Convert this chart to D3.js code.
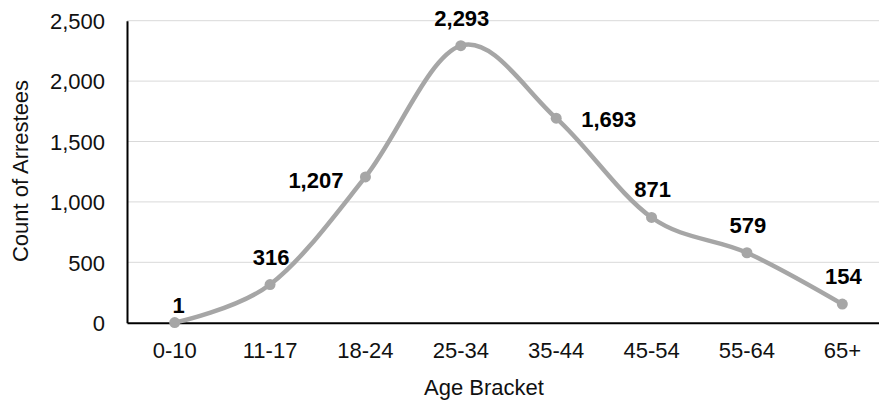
<!DOCTYPE html>
<html>
<head>
<meta charset="utf-8">
<script src="https://cdn.jsdelivr.net/npm/d3@7"></script>
<style>
  html, body { margin: 0; padding: 0; background: #fff; }
  svg { display: block; font-family: "Liberation Sans", Arial, sans-serif; }
</style>
</head>
<body>
<svg id="chart" width="879" height="403"></svg>
<script>
const categories = ["0-10", "11-17", "18-24", "25-34", "35-44", "45-54", "55-64", "65+"];
const arrestees = [1, 316, 1207, 2293, 1693, 871, 579, 154];
const yTicks = [0, 500, 1000, 1500, 2000, 2500];
const labelPlacement = ["above0", "above", "left", "above", "right", "above", "above", "above"];

const W = 879, H = 403;
const margin = { left: 127, top: 20.7, bottom: 322.7, right: 890 };
const svg = d3.select("#chart");

const x = d3.scaleBand().domain(categories).range([margin.left, margin.right]).padding(0);
const y = d3.scaleLinear().domain([0, 2500]).range([margin.bottom, margin.top]);
const cx = d => x(d) + x.bandwidth() / 2;

// gridlines
svg.append("g").selectAll("line").data(yTicks.filter(t => t > 0)).join("line")
  .attr("x1", margin.left).attr("x2", W)
  .attr("y1", d => y(d)).attr("y2", d => y(d))
  .attr("stroke", "#d9d9d9").attr("stroke-width", 1);

// y axis
const yAxis = d3.axisLeft(y).tickValues(yTicks).tickSize(0).tickPadding(22)
  .tickFormat(d3.format(","));
const gy = svg.append("g").attr("transform", `translate(${margin.left},0)`).call(yAxis);
gy.select(".domain").attr("stroke", "#000").attr("stroke-width", 2);
gy.selectAll("text").attr("font-size", 22).attr("fill", "#111")
  .attr("font-family", "'Liberation Sans', Arial, sans-serif").attr("dy", "0.35em");

// x axis
const xAxis = d3.axisBottom(x).tickSize(0).tickPadding(20);
const gx = svg.append("g").attr("transform", `translate(0,${margin.bottom})`).call(xAxis);
gx.select(".domain").attr("stroke", "#000").attr("stroke-width", 2);
gx.selectAll("text").attr("font-size", 22).attr("fill", "#111")
  .attr("font-family", "'Liberation Sans', Arial, sans-serif");

// line
const pts = categories.map((c, i) => ({ c, v: arrestees[i], p: labelPlacement[i] }));
const line = d3.line().x(d => cx(d.c)).y(d => y(d.v)).curve(d3.curveCardinal.tension(0));
svg.append("path").datum(pts).attr("d", line)
  .attr("fill", "none").attr("stroke", "#a6a6a6").attr("stroke-width", 4.5)
  .attr("stroke-linejoin", "round").attr("stroke-linecap", "round");

svg.append("g").selectAll("circle").data(pts).join("circle")
  .attr("cx", d => cx(d.c)).attr("cy", d => y(d.v)).attr("r", 5.5)
  .attr("fill", "#a6a6a6");

// data labels
const fmt = d3.format(",");
svg.append("g").selectAll("text").data(pts).join("text")
  .attr("x", d => {
    const px = cx(d.c);
    if (d.p === "left") return px - 22;
    if (d.p === "right") return px + 25;
    if (d.p === "above0") return px + 4;
    return px + 1;
  })
  .attr("y", d => {
    const py = y(d.v);
    if (d.p === "left") return py + 11;
    if (d.p === "right") return py + 9;
    if (d.p === "above0") return py - 10;
    return py - 20;
  })
  .attr("text-anchor", d => d.p === "left" ? "end" : d.p === "right" ? "start" : "middle")
  .attr("font-size", 22).attr("font-weight", "bold").attr("fill", "#000")
  .text(d => fmt(d.v));

// axis titles
svg.append("text").attr("transform", "translate(28,171) rotate(-90)")
  .attr("text-anchor", "middle").attr("font-size", 22).attr("fill", "#111")
  .text("Count of Arrestees");
svg.append("text").attr("x", 484).attr("y", 395)
  .attr("text-anchor", "middle").attr("font-size", 22).attr("fill", "#111")
  .text("Age Bracket");
</script>
</body>
</html>
